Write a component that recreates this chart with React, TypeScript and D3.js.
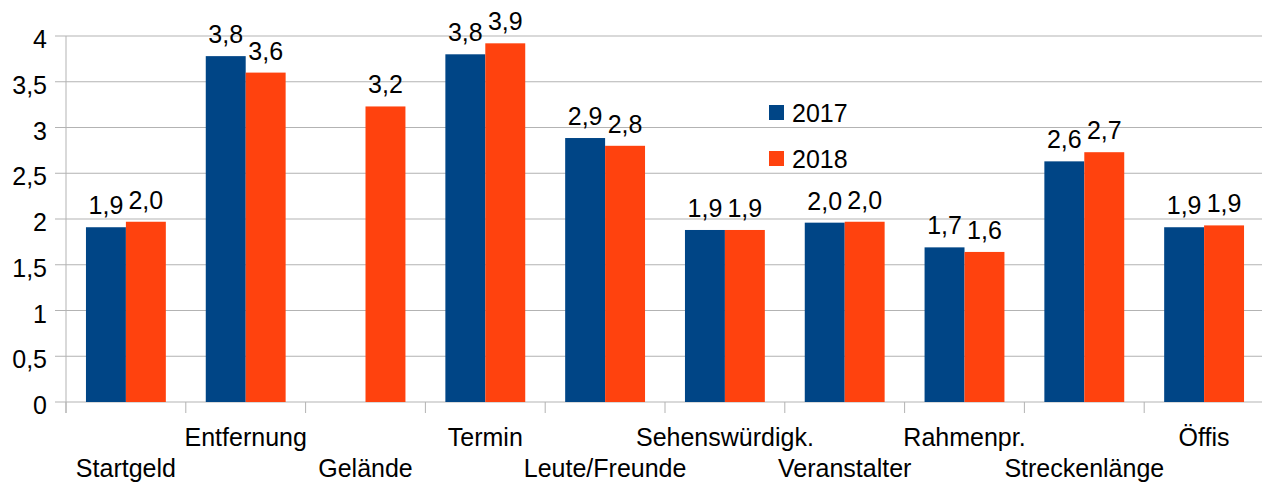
import { useEffect } from 'react';
import * as d3 from 'd3';

const categories = [
  'Startgeld',
  'Entfernung',
  'Gelände',
  'Termin',
  'Leute/Freunde',
  'Sehenswürdigk.',
  'Veranstalter',
  'Rahmenpr.',
  'Streckenlänge',
  'Öffis',
];
const seriesNames = ['2017', '2018'];
const values2017 = [1.91, 3.78, null, 3.8, 2.885, 1.88, 1.96, 1.69, 2.63, 1.91];
const values2018 = [1.97, 3.6, 3.23, 3.92, 2.8, 1.88, 1.97, 1.64, 2.73, 1.93];
const yTicks = [0, 0.5, 1, 1.5, 2, 2.5, 3, 3.5, 4];

const colors = ['#004586', '#ff420e'];

export default function App() {
  useEffect(() => {
    document.body.style.margin = '0';
  }, []);

  const width = 1262,
    height = 485,
    marginLeft = 66,
    marginRight = -2,
    marginTop = 36,
    marginBottom = 83;

  const x = d3
    .scaleBand()
    .domain(categories)
    .range([marginLeft, width - marginRight]);

  const x1 = d3
    .scaleBand()
    .domain(seriesNames)
    .range([0, x.bandwidth()])
    .paddingInner(0)
    .paddingOuter(0.5);

  const y = d3
    .scaleLinear()
    .domain([0, 4])
    .range([height - marginBottom, marginTop]);

  const fmt = (v) => d3.format('.1f')(v).replace('.', ',');
  const series = [values2017, values2018];
  const font = 'Liberation Sans, Arial, sans-serif';

  return (
    <svg
      width={width}
      height={height}
      style={{ display: 'block', fontFamily: font }}
    >
      {yTicks.map((t) => (
        <g key={t}>
          <line
            x1={marginLeft - 11}
            x2={width}
            y1={y(t)}
            y2={y(t)}
            stroke="#b3b3b3"
            strokeWidth={1}
          />
          <text
            x={47}
            y={y(t) + 12}
            textAnchor="end"
            fontSize={25}
            fill="#000"
          >
            {fmt(t).replace(',0', '')}
          </text>
        </g>
      ))}
      <line
        x1={marginLeft}
        x2={marginLeft}
        y1={marginTop}
        y2={y(0) + 11}
        stroke="#b3b3b3"
      />
      {categories.map((c, i) => (
        <line
          key={'t' + c}
          x1={x(c)}
          x2={x(c)}
          y1={y(0)}
          y2={y(0) + 11}
          stroke="#b3b3b3"
        />
      ))}
      {series.map((vals, s) =>
        vals.map((v, i) =>
          v == null ? null : (
            <rect
              key={s + '-' + i}
              x={x(categories[i]) + x1(seriesNames[s])}
              y={y(v)}
              width={x1.bandwidth()}
              height={y(0) - y(v)}
              fill={colors[s]}
            />
          )
        )
      )}
      {series.map((vals, s) =>
        vals.map((v, i) =>
          v == null ? null : (
            <text
              key={'l' + s + '-' + i}
              x={x(categories[i]) + x1(seriesNames[s]) + x1.bandwidth() / 2}
              y={y(v) - 13}
              textAnchor="middle"
              fontSize={25}
              fill="#000"
            >
              {fmt(v)}
            </text>
          )
        )
      )}
      {categories.map((c, i) => (
        <text
          key={'c' + c}
          x={x(c) + x.bandwidth() / 2}
          y={i % 2 === 0 ? 477 : 446}
          textAnchor="middle"
          fontSize={25}
          fill="#000"
        >
          {c}
        </text>
      ))}
      {seriesNames.map((n, s) => (
        <g key={'lg' + n} transform={`translate(769,${105 + s * 46})`}>
          <rect width={15} height={15} fill={colors[s]} />
          <text x={23} y={17} fontSize={25} fill="#000">
            {n}
          </text>
        </g>
      ))}
    </svg>
  );
}
